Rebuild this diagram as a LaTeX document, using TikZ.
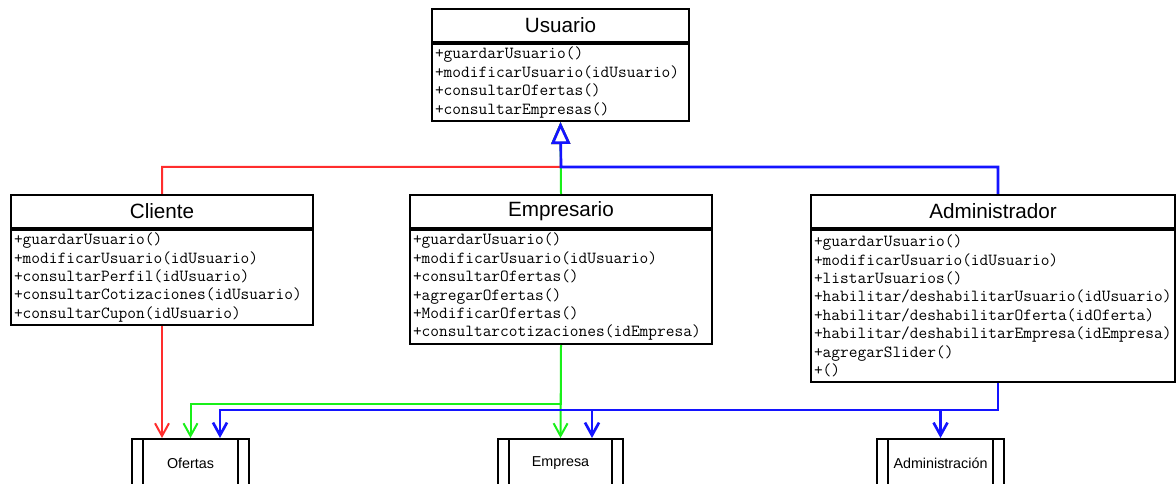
\documentclass[tikz,border=0pt]{standalone}
\usepackage{fontspec}
\setsansfont{Liberation Sans}
\usetikzlibrary{positioning,arrows.meta,calc}
\definecolor{umlred}{RGB}{255,45,45}
\definecolor{umlgreen}{RGB}{25,240,25}
\definecolor{umlblue}{RGB}{20,20,255}
\tikzset{
  >={Straight Barb[length=9.5pt,width=10.5pt]},
  clshead/.style={draw=black,line width=1.5pt,minimum height=24.75pt,
    inner sep=0pt,font=\sffamily\fontsize{15.5}{18}\selectfont},
  clsops/.style={draw=black,line width=1.5pt,align=left,anchor=north,
    inner xsep=2.25pt,inner ysep=0pt,
    font=\ttfamily\fontsize{12.7}{13.8}\selectfont},
  tblbox/.style={draw=black,line width=1.5pt,minimum height=36pt,
    anchor=north,inner sep=0pt,font=\sffamily\fontsize{10.75}{12}\selectfont},
  tblbar/.style={line width=1.5pt},
  gen/.style={-{Triangle[open,length=16.5pt,width=14.25pt]}},
  redln/.style={umlred,line width=1.5pt},
  grnln/.style={umlgreen,line width=1.5pt},
  bluln/.style={umlblue,line width=2pt},
}
\begin{document}
\begin{tikzpicture}[x=0.75pt,y=-0.75pt]
  \useasboundingbox (0,0) rectangle (1176,484);
  \clip (0,0) rectangle (1176,484);
  % classes
  \node[clshead,minimum width=192.75pt] (usu) at (560.5,25.5) {Usuario};
  \node[clsops,below=0pt of usu,text width=188.25pt,minimum height=57.75pt] (usuops)
    {+guardarUsuario()\\+modificarUsuario(idUsuario)\\+consultarOfertas()\\
     +consultarEmpresas()};
  \node[clshead,minimum width=226.5pt] (cli) at (162,211.5) {Cliente};
  \node[clsops,below=0pt of cli,text width=222pt,minimum height=71.25pt] (cliops)
    {+guardarUsuario()\\+modificarUsuario(idUsuario)\\+consultarPerfil(idUsuario)\\
     +consultarCotizaciones(idUsuario)\\+consultarCupon(idUsuario)};
  \node[clshead,minimum width=226.5pt] (emp) at (561,211.5) {Empresario};
  \node[clsops,below=0pt of emp,text width=222pt,minimum height=85.5pt] (empops)
    {+guardarUsuario()\\+modificarUsuario(idUsuario)\\+consultarOfertas()\\
     +agregarOfertas()\\+ModificarOfertas()\\+consultarcotizaciones(idEmpresa)};
  \node[clshead,minimum width=273pt] (adm) at (993,211.5) {Administrador};
  \node[clsops,below=0pt of adm,text width=268.5pt,minimum height=114pt] (admops)
    {+guardarUsuario()\\+modificarUsuario(idUsuario)\\+listarUsuarios()\\
     +habilitar/deshabilitarUsuario(idUsuario)\\
     +habilitar/deshabilitarOferta(idOferta)\\
     +habilitar/deshabilitarEmpresa(idEmpresa)\\+agregarSlider()\\+()};
  % tables
  \node[tblbox,minimum width=87.75pt] (ofe) at (190.5,438) {Ofertas};
  \node[tblbox,minimum width=93.75pt] (empr) at (560.5,438) {Empresa};
  \node[tblbox,minimum width=95.25pt] (admin) at (940.5,438) {Administración};
  \foreach \t in {ofe,empr,admin} {
    \draw[tblbar] ([xshift=9pt]\t.north west) -- ([xshift=9pt]\t.south west);
    \draw[tblbar] ([xshift=-9pt]\t.north east) -- ([xshift=-9pt]\t.south east);
  }
  % generalization
  \coordinate (genj) at (561,167);
  \draw[redln,gen] (cli.north) |- (genj) -- (usuops.south);
  \draw[grnln,gen] (emp.north) -- (usuops.south);
  \draw[bluln,gen] ($(adm.north)+(5,0)$) |- (genj) -- (usuops.south);
  % usage
  \coordinate (gbus) at (0,404);
  \coordinate (bbus) at (0,410);
  \coordinate (admbot) at ($(admops.south)+(5,0)$);
  \coordinate (emprin) at ($(empr.north)+(31.5,0)$);
  \draw[redln,->] (cliops.south) -- (cliops.south |- ofe.north);
  \draw[grnln,->] (empops.south) -- (empr.north);
  \draw[grnln,->] (empops.south) -- (empops.south |- gbus) -| (ofe.north);
  \draw[bluln,->] (admbot) -- (admbot |- bbus) -| ($(ofe.north)+(29.5,0)$);
  \draw[bluln,->] (emprin |- bbus) -- (emprin);
  \draw[bluln,->] (admin.north |- bbus) -- (admin.north);
\end{tikzpicture}
\end{document}
